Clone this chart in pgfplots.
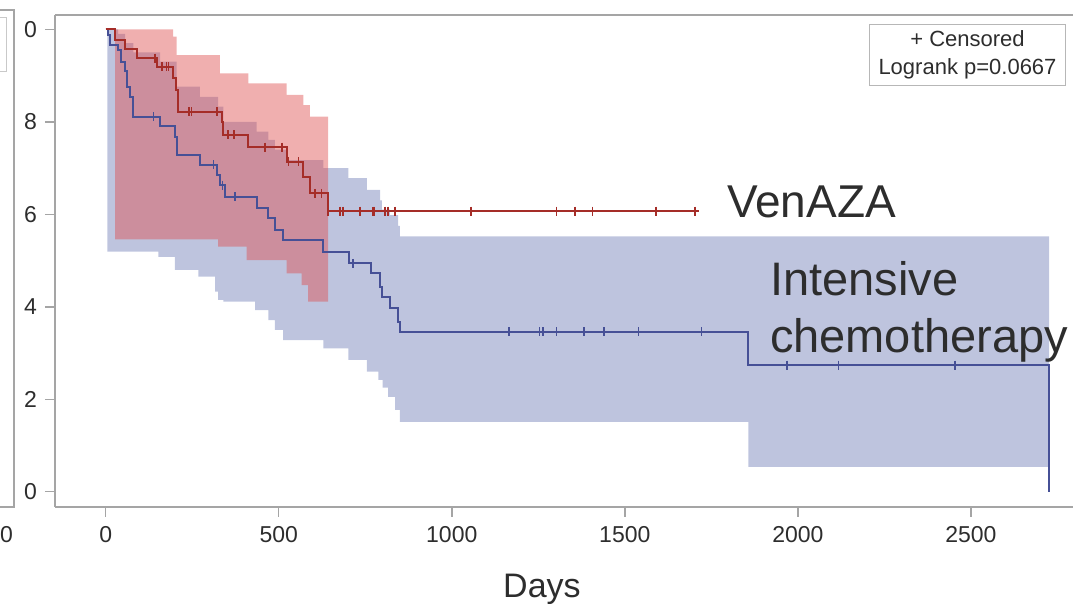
\documentclass[border=0pt]{standalone}
\usepackage{fontspec}
\setmainfont{Liberation Sans}
\usepackage{pgfplots}
\pgfplotsset{compat=1.18}
\usepgfplotslibrary{fillbetween}
\definecolor{bfill}{RGB}{190,196,222}
\definecolor{rfill}{RGB}{222,78,78}
\definecolor{rline}{RGB}{165,45,40}
\definecolor{bline}{RGB}{70,80,150}
\definecolor{axgray}{RGB}{165,165,165}
\definecolor{txt}{RGB}{45,45,45}
\begin{document}
\begin{tikzpicture}
\begin{axis}[name=ax, scale only axis, width=1018pt, height=492pt,
 xmin=-146.5, xmax=2795, ymin=-0.033, ymax=1.031,
 axis x line*=box, axis y line*=left, xtick pos=bottom, ytick pos=left,
 axis line style={axgray, line width=1.5pt, -},
 tick align=outside, major tick length=10pt, major tick style={axgray, line width=1.5pt},
 xtick={0,500,1000,1500,2000,2500}, xticklabels={0,500,1000,1500,2000,2500},
 ytick={0,0.2,0.4,0.6,0.8,1.0}, yticklabels={0.0,0.2,0.4,0.6,0.8,1.0},
 /pgf/number format/assume math mode=true,
 ticklabel style={font=\fontsize{23}{28}\selectfont, text=txt},
 xticklabel style={inner sep=0pt, yshift=-9pt},
 yticklabel style={inner sep=0pt, xshift=-8pt},
 clip=false,
]
% blue CI band
\addplot[draw=none, name path=bu, const plot, forget plot] coordinates {
(0,1.0) (36,0.99) (56,0.97) (80,0.95) (157,0.93) (205,0.876) (272,0.854) (325,0.833)
(340,0.80) (436,0.779) (470,0.761) (489,0.74) (523,0.717) (629,0.70) (701,0.678)
(755,0.653) (793,0.63) (798,0.61) (821,0.598) (845,0.575) (850,0.552) (2726,0.552)};
\addplot[draw=none, name path=bl, const plot, forget plot] coordinates {
(0,1.0) (5,0.519) (152,0.508) (200,0.48) (268,0.465) (316,0.433) (325,0.415) (340,0.411)
(432,0.393) (470,0.371) (489,0.35) (513,0.328) (629,0.31) (701,0.285) (755,0.26)
(788,0.242) (800,0.225) (816,0.205) (836,0.177) (850,0.151) (1857,0.054) (2726,0.054)};
\addplot[bfill, draw=none] fill between[of=bu and bl];
% red CI band
\addplot[draw=none, name path=ru, const plot, forget plot] coordinates {
(0,1.0) (195,0.984) (205,0.944) (330,0.905) (412,0.883) (523,0.858) (571,0.836) (590,0.811) (643,0.811)};
\addplot[draw=none, name path=rl, const plot, forget plot] coordinates {
(0,1.0) (27,0.546) (325,0.530) (407,0.501) (523,0.472) (566,0.447) (585,0.411) (643,0.411)};
\addplot[rfill, fill opacity=0.45, draw=none] fill between[of=ru and rl];
% blue survival curve
\addplot[bline, line width=2pt, const plot, mark=none] coordinates {
(0,1.0) (8,0.988) (13,0.966) (36,0.955) (45,0.93) (56,0.91) (62,0.876) (70,0.854) (78,0.811)
(157,0.791) (200,0.768) (205,0.728) (272,0.707) (321,0.685) (330,0.663) (345,0.638)
(436,0.613) (470,0.591) (489,0.566) (513,0.544) (629,0.519) (704,0.494) (768,0.472)
(793,0.443) (798,0.422) (821,0.397) (845,0.368) (850,0.346) (1857,0.274) (2726,0.0)};
% red survival curve
\addplot[rline, line width=2pt, const plot, mark=none] coordinates {
(0,1.0) (27,0.977) (56,0.957) (90,0.9375) (147,0.919) (195,0.895) (203,0.869) (210,0.822)
(335,0.80) (340,0.772) (412,0.745) (523,0.714) (571,0.681) (590,0.645) (643,0.607) (1713,0.607)};
% censored marks
\addplot[only marks, mark=|, mark size=4.5pt, mark options={bline, line width=1.5pt}] coordinates {
(138,0.811) (311,0.707) (338,0.663) (374,0.638) (715,0.494)
(1166,0.346) (1253,0.346) (1264,0.346) (1303,0.346) (1382,0.346) (1440,0.346) (1539,0.346) (1722,0.346)
(1969,0.274) (2117,0.274) (2454,0.274)};
\addplot[only marks, mark=|, mark size=4.5pt, mark options={rline, line width=1.5pt}] coordinates {
(142,0.9375) (162,0.919) (176,0.919) (181,0.919)
(241,0.822) (248,0.822) (321,0.822) (354,0.772) (370,0.772)
(460,0.745) (510,0.745) (528,0.714) (557,0.714) (605,0.645) (624,0.645)
(643,0.607) (677,0.607) (685,0.607) (735,0.607) (773,0.607) (776,0.607) (807,0.607) (815,0.607) (836,0.607)
(1055,0.607) (1303,0.607) (1356,0.607) (1407,0.607) (1590,0.607) (1703,0.607)};
% annotations
\node[anchor=base west, inner sep=0pt, font=\fontsize{46}{56}\selectfont, text=txt] at (axis cs:1795,0.592) {VenAZA};
\node[anchor=base west, inner sep=0pt, font=\fontsize{47}{56}\selectfont, text=txt] at (axis cs:1919,0.4233) {Intensive};
\node[anchor=base west, inner sep=0pt, font=\fontsize{47}{56}\selectfont, text=txt] at (axis cs:1919,0.302) {chemotherapy};
\node[anchor=base, inner sep=0pt, yshift=-91pt, font=\fontsize{34}{40}\selectfont, text=txt] at (axis cs:1260.6,-0.033) {Days};
\end{axis}
% legend box
\node[draw=axgray!80, line width=1pt, anchor=north east, align=center, minimum width=196pt, minimum height=61pt,
 inner sep=0pt, font=\fontsize{22}{28}\selectfont, text=txt] at ([shift={(-7pt,-9pt)}]ax.north east) {+ Censored\\Logrank p=0.0667};
% the neighbouring panel overlaps the left part of the tick labels
\fill[white] ([shift={(-80pt,-100pt)}]ax.south west) rectangle ([shift={(-31pt,520pt)}]ax.south west);
% remnants of neighbouring panel
\draw[axgray, line width=1.5pt] ([shift={(-70pt,497pt)}]ax.south west) -- ([shift={(-41pt,497pt)}]ax.south west) -- ([shift={(-41pt,0pt)}]ax.south west) -- ([shift={(-70pt,0pt)}]ax.south west);
\draw[axgray!60, line width=1pt] ([shift={(-70pt,489pt)}]ax.south west) rectangle ([shift={(-48pt,435pt)}]ax.south west);
\node[anchor=west, inner sep=0pt, font=\fontsize{23}{28}\selectfont, text=txt] at ([shift={(-55pt,-28pt)}]ax.south west) {0};
\pgfresetboundingbox
\path[use as bounding box] ([shift={(-55pt,-97pt)}]ax.south west) rectangle ([shift={(11pt,15pt)}]ax.north east);
\end{tikzpicture}
\end{document}
